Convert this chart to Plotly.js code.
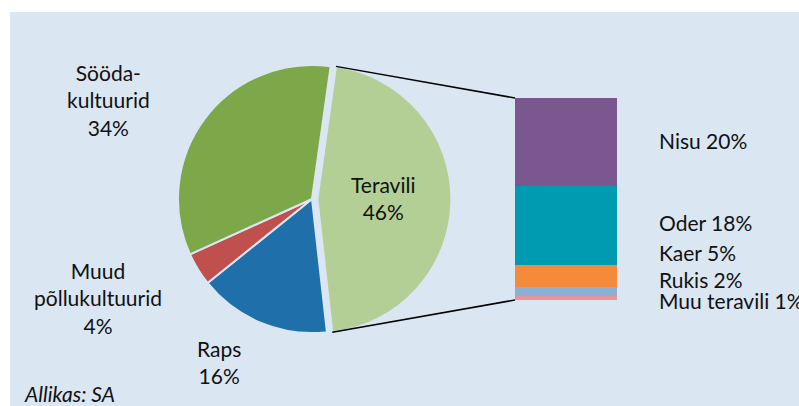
<!DOCTYPE html>
<html>
<head>
<meta charset="utf-8">
<script src="https://cdn.plot.ly/plotly-3.0.1.min.js"></script>
<style>html,body{margin:0;padding:0;background:#fff;}#chart{width:799px;height:406px;}</style>
</head>
<body>
<div id="chart"></div>
<script>
// ---- data ----
const pieLabels = ['Teravili', 'Raps', 'Muud põllukultuurid', 'Söödakultuurid'];
const pieLabelText = ['Teravili', 'Raps', 'Muud<br>põllukultuurid', 'Sööda-<br>kultuurid'];
const pieValues = [46, 16, 4, 34];
const pieColors = ['#b3cf95', '#1f6fab', '#c0504d', '#7da84a'];

const barLabels = ['Nisu', 'Oder', 'Kaer', 'Rukis', 'Muu teravili'];
const barValues = [20, 18, 5, 2, 1];
const barColors = ['#7b5790', '#009bb0', '#f58a3b', '#8cafd6', '#e8959a'];

const sourceText = 'Allikas: SA';

// ---- layout geometry ----
const W = 799, H = 406;
const BG = '#dae6f1';
const FONT = 'Lato, "Noto Sans", sans-serif';
const pieCx = 312, pieCy = 199, pieR = 134, pull = 0.04, rotation = 8;
const half = pieR * (1 + pull);
const pieDomX = [(pieCx - half) / W, (pieCx + half) / W];
const pieDomY = [(H - pieCy - half) / H, (H - pieCy + half) / H];
const barDomX = [515 / W, 617 / W];
const barDomY = [(H - 300) / H, (H - 98) / H];

const total = pieValues.reduce((a, b) => a + b, 0);
const barTotal = barValues.reduce((a, b) => a + b, 0);

// teravili slice corners (computed from data)
const deg = Math.PI / 180;
const a0 = rotation * deg;
const a1 = a0 + 2 * Math.PI * pieValues[0] / total;
const am = (a0 + a1) / 2;
const ox = pieCx + pull * pieR * Math.sin(am);
const oy = pieCy - pull * pieR * Math.cos(am);
const topCorner = [ox + pieR * Math.sin(a0), oy - pieR * Math.cos(a0)];
const botCorner = [ox + pieR * Math.sin(a1), oy - pieR * Math.cos(a1)];

const traces = [];
traces.push({
  type: 'pie',
  labels: pieLabels,
  values: pieValues,
  sort: false,
  direction: 'clockwise',
  rotation: rotation,
  pull: [pull, 0, 0, 0],
  marker: { colors: pieColors, line: { color: BG, width: 2 } },
  textinfo: 'none',
  hoverinfo: 'none',
  showlegend: false,
  domain: { x: pieDomX, y: pieDomY }
});
// stacked bar, bottom segment first
for (let i = barValues.length - 1; i >= 0; i--) {
  traces.push({
    type: 'bar',
    x: ['Teravili'],
    y: [barValues[i]],
    width: [1],
    name: barLabels[i],
    marker: { color: barColors[i], line: { width: 0 } },
    hoverinfo: 'none',
    showlegend: false,
    xaxis: 'x', yaxis: 'y'
  });
}

function px(x) { return x / W; }
function py(y) { return 1 - y / H; }

const textFont = { family: FONT, size: 21, color: '#111' };
const pieLabelPos = [[383, 198], [219, 362], [98, 298], [108, 100]];
const barLabelPos = [[657, 140], [657, 222], [657, 253], [657, 279], [657, 300]];

const annotations = [];
pieLabels.forEach((l, i) => {
  annotations.push({
    xref: 'paper', yref: 'paper',
    x: px(pieLabelPos[i][0]), y: py(pieLabelPos[i][1]),
    xanchor: 'center', yanchor: 'middle', align: 'center',
    text: pieLabelText[i] + '<br>' + pieValues[i] + '%',
    showarrow: false, font: textFont
  });
});
barLabels.forEach((l, i) => {
  annotations.push({
    xref: 'paper', yref: 'paper',
    x: px(barLabelPos[i][0]), y: py(barLabelPos[i][1]),
    xanchor: 'left', yanchor: 'middle', align: 'left',
    text: l + ' ' + barValues[i] + '%',
    showarrow: false, font: textFont
  });
});
annotations.push({
  xref: 'paper', yref: 'paper',
  x: px(22), y: py(393), xanchor: 'left', yanchor: 'middle',
  text: '<i>' + sourceText + '</i>', showarrow: false, font: textFont
});

const shapes = [
  { type: 'rect', xref: 'paper', yref: 'paper', x0: 10 / W, x1: 1, y0: 0, y1: 1 - 12 / H,
    fillcolor: BG, line: { width: 0 }, layer: 'below' },
  { type: 'line', xref: 'paper', yref: 'paper',
    x0: px(topCorner[0]), y0: py(topCorner[1]), x1: barDomX[0], y1: barDomY[1],
    line: { color: '#000', width: 1.5 } },
  { type: 'line', xref: 'paper', yref: 'paper',
    x0: px(botCorner[0]), y0: py(botCorner[1]), x1: barDomX[0], y1: barDomY[0],
    line: { color: '#000', width: 1.5 } }
];

const layout = {
  width: W, height: H,
  margin: { l: 0, r: 0, t: 0, b: 0, pad: 0 },
  paper_bgcolor: '#ffffff',
  plot_bgcolor: 'rgba(0,0,0,0)',
  barmode: 'stack',
  bargap: 0,
  showlegend: false,
  xaxis: { domain: barDomX, range: [-0.5, 0.5], visible: false, fixedrange: true },
  yaxis: { domain: barDomY, range: [0, barTotal], visible: false, fixedrange: true },
  annotations: annotations,
  shapes: shapes,
  font: textFont
};

Plotly.newPlot('chart', traces, layout, { staticPlot: true, displayModeBar: false });
</script>
</body>
</html>
